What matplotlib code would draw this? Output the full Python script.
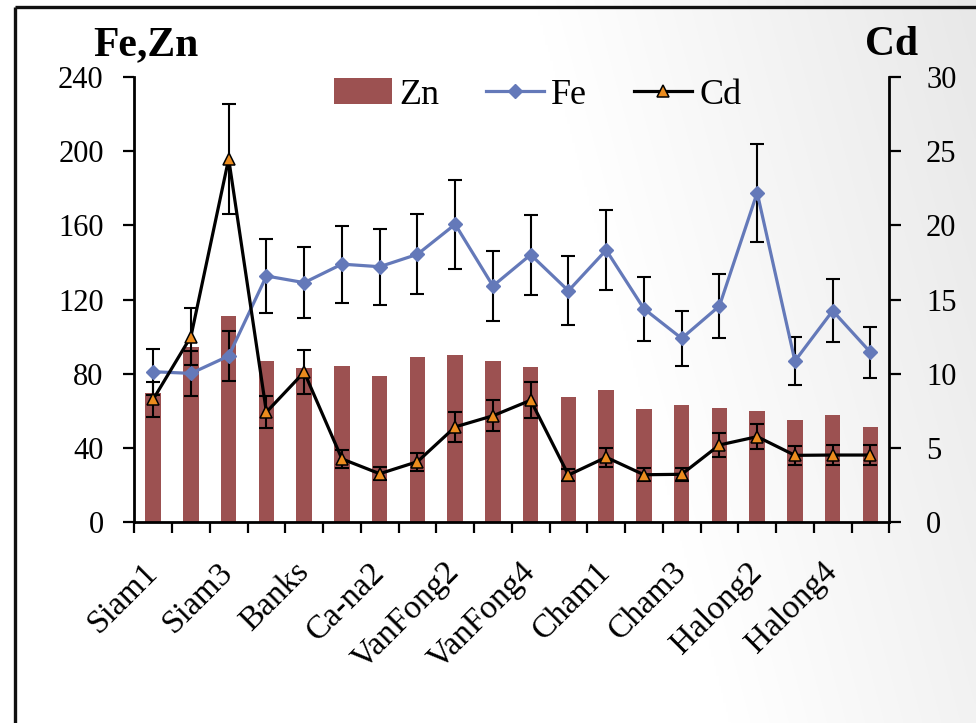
import numpy as np
import matplotlib
matplotlib.use("Agg")
import matplotlib.pyplot as plt
from matplotlib.patches import Patch

# Sampling sites
sites = ["Siam1", "Siam2", "Siam3", "Siam4", "Banks", "Ca-na1", "Ca-na2",
         "VanFong1", "VanFong2", "VanFong3", "VanFong4", "VanFong5",
         "Cham1", "Cham2", "Cham3", "Halong1", "Halong2", "Halong3",
         "Halong4", "Halong5"]

# Zn (left axis, bars)
zn = [69.3, 94.2, 111.1, 86.8, 83.0, 84.3, 78.7, 88.8, 89.8, 87.0,
      83.4, 67.5, 70.9, 60.9, 63.0, 61.4, 59.9, 55.1, 57.6, 51.0]

# Fe (left axis, line) and its error
fe = [81.0, 80.1, 89.5, 132.7, 129.1, 139.1, 137.7, 144.4, 160.6, 127.3,
      144.2, 124.7, 146.7, 115.0, 99.0, 116.5, 177.7, 86.8, 113.9, 91.5]
fe_err = [12.4, 12.0, 13.4, 19.8, 19.3, 20.8, 20.6, 21.6, 24.0, 19.0,
          21.6, 18.6, 21.8, 17.3, 15.0, 17.3, 26.5, 13.0, 17.0, 13.8]

# Cd (right axis, line) and its error
cd = [8.26, 12.5, 24.5, 7.4, 10.1, 4.24, 3.24, 4.05, 6.4, 7.15,
      8.2, 3.15, 4.35, 3.17, 3.2, 5.18, 5.74, 4.48, 4.5, 4.5]
cd_err = [1.2, 1.9, 3.7, 1.1, 1.5, 0.6, 0.45, 0.6, 1.0, 1.06,
          1.2, 0.42, 0.64, 0.45, 0.45, 0.79, 0.86, 0.65, 0.65, 0.65]

left_ticks = [0, 40, 80, 120, 160, 200, 240]
right_ticks = [0, 5, 10, 15, 20, 25, 30]

ZN_COLOR = "#9C5151"
FE_COLOR = "#6479B9"
CD_FACE = "#EC8C1E"
SERIF = ["Liberation Serif", "DejaVu Serif"]

plt.rcParams["font.family"] = SERIF

W, H = 976, 723
fig = plt.figure(figsize=(W / 100, H / 100), dpi=100)

# soft grey shading towards the upper right of the page
bg = fig.add_axes([0, 0, 1, 1], zorder=-10)
u = np.linspace(0, 1, 400)[None, :]
v = np.linspace(0, 1, 300)[:, None]
d = u - 0.2 * v
t = np.clip((d - 0.55) / 0.45, 0, 1)
shade = 1 - 0.09 * t
bg.imshow(np.dstack([shade] * 3), extent=[0, W, H, 0], aspect="auto",
          interpolation="bilinear")
bg.set_xlim(0, W)
bg.set_ylim(H, 0)
bg.plot([15, 15], [7, H], color="#111111", lw=2.4, solid_capstyle="butt")
bg.plot([15, W], [7, 7], color="#111111", lw=2.4, solid_capstyle="butt")
bg.axis("off")

ax = fig.add_axes([134.3 / W, 1 - 521.7 / H, (889.3 - 134.3) / W,
                   (521.7 - 77.3) / H])
ax.set_facecolor("none")
x = np.arange(len(sites))

ax.bar(x, zn, width=0.41, color=ZN_COLOR, zorder=1)
ax.errorbar(x, fe, yerr=fe_err, fmt="none", ecolor="black", elinewidth=1.5,
            capsize=4.8, capthick=1.5, zorder=2)
fe_line, = ax.plot(x, fe, color=FE_COLOR, lw=2.3, marker="D", markersize=7.2,
                   markerfacecolor=FE_COLOR, markeredgecolor=FE_COLOR, zorder=3)

ax.set_xlim(-0.5, len(sites) - 0.5)
ax.set_ylim(0, 240)
ax.set_yticks(left_ticks)

ax2 = ax.twinx()
ax2.set_facecolor("none")
ax2.errorbar(x, cd, yerr=cd_err, fmt="none", ecolor="black", elinewidth=1.5,
             capsize=4.8, capthick=1.5, zorder=2)
cd_line, = ax2.plot(x, cd, color="black", lw=2.3, marker="^", markersize=8,
                    markerfacecolor=CD_FACE, markeredgecolor="black",
                    markeredgewidth=1.1, zorder=3)
ax2.set_ylim(0, 30)
ax2.set_yticks(right_ticks)

# spines and ticks
for a in (ax, ax2):
    a.spines["top"].set_visible(False)
    for s in ("left", "right", "bottom"):
        a.spines[s].set_linewidth(2.0)
ax.spines["right"].set_visible(False)
ax2.spines["left"].set_visible(False)
ax2.spines["bottom"].set_visible(False)

ax.tick_params(axis="y", direction="out", length=8, width=1.6,
               labelsize=22, pad=14)
ax2.tick_params(axis="y", direction="out", length=8.5, width=1.6,
                labelsize=22, pad=18)

# ticks at category boundaries, labels at every second site
ax.set_xticks(np.arange(-0.5, len(sites), 1.0))
ax.set_xticklabels([])
ax.tick_params(axis="x", which="major", direction="out", length=8, width=1.6)
ax.set_xticks(x[::2], minor=True)
ax.set_xticklabels(sites[::2], minor=True)
ax.tick_params(axis="x", which="minor", length=0, labelsize=24, pad=33)
for lab in ax.get_xticklabels(minor=True):
    lab.set_rotation(45)
    lab.set_rotation_mode("anchor")
    lab.set_ha("right")
    lab.set_va("center")

# axis captions
fig.text(93 / W, 1 - 55 / H, "Fe,Zn", fontsize=30, fontweight="bold",
         ha="left", va="baseline")
fig.text(865 / W, 1 - 55 / H, "Cd", fontsize=30, fontweight="bold",
         ha="left", va="baseline")

handles = [Patch(facecolor=ZN_COLOR, edgecolor="none"), fe_line, cd_line]
fig.legend(handles, ["Zn", "Fe", "Cd"], loc="center",
           bbox_to_anchor=(538 / W, 1 - 95 / H), ncol=3, frameon=False,
           fontsize=26, handlelength=1.6, handletextpad=0.2,
           columnspacing=1.3, numpoints=1, borderpad=0)

fig.savefig("out.png", dpi=100)
